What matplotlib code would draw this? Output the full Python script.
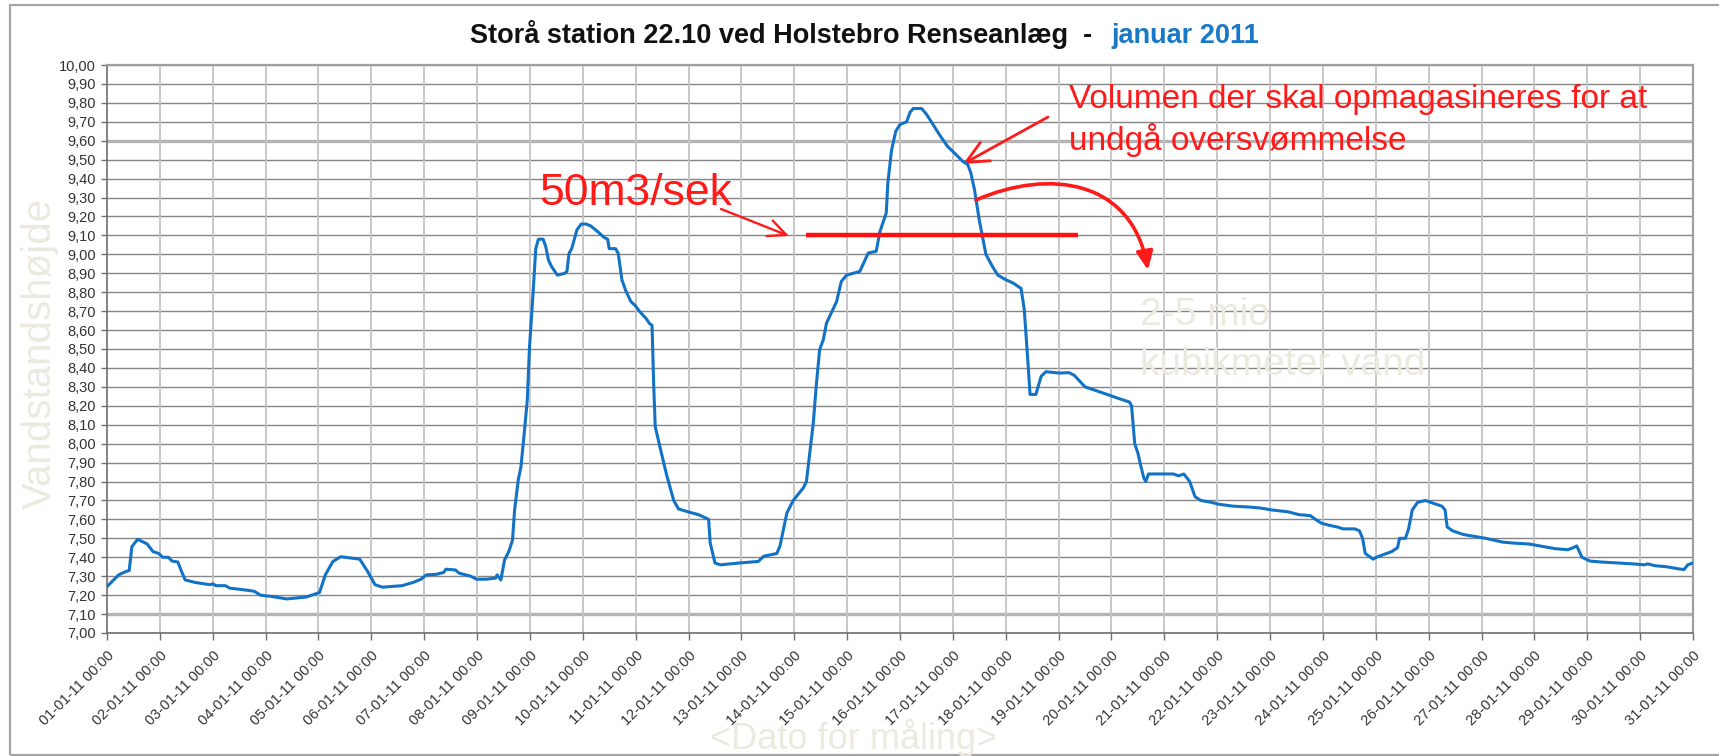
import numpy as np
import matplotlib
matplotlib.use("Agg")
import matplotlib.pyplot as plt
from matplotlib.path import Path
from matplotlib.patches import FancyArrowPatch, Rectangle

# ---------------- data ----------------
title_main = "Storå station 22.10 ved Holstebro Renseanlæg  -"
title_month = "januar 2011"
y_label = "Vandstandshøjde"
x_label = "<Dato for måling>"
flow_label = "50m3/sek"
volume_label_1 = "Volumen der skal opmagasineres for at"
volume_label_2 = "undgå oversvømmelse"
amount_label_1 = "2-5 mio"
amount_label_2 = "kubikmeter vand"

tick_days = list(range(1, 32))
x_tick_labels = [f"{d:02d}-01-11 00:00" for d in tick_days]
y_ticks = [round(7.0 + 0.1 * i, 2) for i in range(31)]
y_tick_labels = [f"{v:.2f}".replace(".", ",") for v in y_ticks]

threshold_level = 9.10
threshold_start = 13.22
threshold_end = 18.36

# days since 01-01-11 00:00
days = [
    0.00, 0.22, 0.36, 0.42, 0.47, 0.58, 0.76, 0.87, 0.98, 1.05,
    1.16, 1.23, 1.34, 1.41, 1.48, 1.67, 1.95, 2.00, 2.06, 2.24,
    2.32, 2.68, 2.79, 2.90, 3.11, 3.40, 3.77, 3.95, 4.02, 4.13,
    4.27, 4.42, 4.78, 4.93, 5.07, 5.21, 5.58, 5.79, 5.94, 6.04,
    6.23, 6.37, 6.41, 6.59, 6.66, 6.88, 6.99, 7.17, 7.35, 7.38,
    7.45, 7.52, 7.60, 7.67, 7.71, 7.78, 7.83, 7.89, 7.95, 7.99,
    8.06, 8.11, 8.16, 8.25, 8.30, 8.35, 8.41, 8.52, 8.66, 8.70,
    8.74, 8.79, 8.89, 8.97, 9.06, 9.15, 9.28, 9.40, 9.47, 9.50,
    9.62, 9.67, 9.74, 9.81, 9.91, 9.99, 10.07, 10.20, 10.26, 10.31,
    10.34, 10.37, 10.47, 10.59, 10.72, 10.81, 11.03, 11.19, 11.38, 11.41,
    11.50, 11.60, 11.97, 12.32, 12.42, 12.67, 12.73, 12.86, 12.98, 13.17,
    13.23, 13.30, 13.36, 13.42, 13.48, 13.55, 13.61, 13.70, 13.80, 13.89,
    13.99, 14.24, 14.40, 14.55, 14.62, 14.74, 14.77, 14.84, 14.92, 15.00,
    15.125, 15.19, 15.25, 15.41, 15.50, 15.625, 15.75, 15.90, 16.03, 16.19,
    16.28, 16.34, 16.41, 16.50, 16.56, 16.625, 16.75, 16.85, 17.00, 17.13,
    17.29, 17.35, 17.42, 17.46, 17.57, 17.67, 17.76, 18.01, 18.20, 18.30,
    18.40, 18.50, 18.71, 18.92, 19.12, 19.34, 19.38, 19.41, 19.44, 19.50,
    19.54, 19.61, 19.65, 19.70, 20.17, 20.27, 20.37, 20.48, 20.58, 20.69,
    20.89, 21.03, 21.30, 21.62, 21.82, 22.03, 22.34, 22.55, 22.76, 22.86,
    22.97, 23.10, 23.27, 23.38, 23.60, 23.69, 23.75, 23.80, 23.90, 23.95,
    24.01, 24.20, 24.30, 24.41, 24.45, 24.56, 24.62, 24.69, 24.79, 24.94,
    25.04, 25.14, 25.25, 25.31, 25.35, 25.45, 25.66, 25.87, 26.08, 26.40,
    26.60, 26.90, 27.10, 27.30, 27.40, 27.63, 27.73, 27.80, 27.85, 27.90,
    28.05, 28.26, 28.56, 28.87, 29.08, 29.14, 29.29, 29.50, 29.70, 29.83,
    29.90, 30.00,
]
levels = [
    7.245, 7.307, 7.325, 7.330, 7.456, 7.495, 7.470, 7.430, 7.420, 7.400,
    7.400, 7.380, 7.375, 7.325, 7.280, 7.267, 7.255, 7.260, 7.250, 7.250,
    7.237, 7.225, 7.220, 7.200, 7.193, 7.180, 7.190, 7.207, 7.214, 7.307,
    7.377, 7.403, 7.390, 7.325, 7.255, 7.242, 7.250, 7.267, 7.284, 7.307,
    7.310, 7.320, 7.337, 7.333, 7.316, 7.300, 7.284, 7.284, 7.290, 7.307,
    7.280, 7.386, 7.430, 7.490, 7.650, 7.810, 7.877, 8.050, 8.230, 8.500,
    8.800, 9.030, 9.080, 9.080, 9.040, 8.970, 8.935, 8.890, 8.900, 8.910,
    9.005, 9.030, 9.130, 9.160, 9.160, 9.150, 9.120, 9.090, 9.080, 9.030,
    9.030, 9.005, 8.865, 8.810, 8.750, 8.730, 8.700, 8.660, 8.635, 8.625,
    8.320, 8.090, 7.970, 7.830, 7.700, 7.655, 7.637, 7.625, 7.600, 7.475,
    7.370, 7.360, 7.370, 7.378, 7.405, 7.420, 7.460, 7.634, 7.700, 7.766,
    7.800, 7.968, 8.110, 8.320, 8.497, 8.550, 8.637, 8.690, 8.750, 8.857,
    8.890, 8.910, 9.007, 9.016, 9.120, 9.218, 9.377, 9.550, 9.650, 9.686,
    9.700, 9.750, 9.770, 9.770, 9.740, 9.686, 9.630, 9.570, 9.535, 9.490,
    9.475, 9.430, 9.340, 9.180, 9.095, 9.000, 8.935, 8.890, 8.866, 8.850,
    8.820, 8.710, 8.430, 8.260, 8.260, 8.356, 8.380, 8.373, 8.375, 8.360,
    8.330, 8.300, 8.280, 8.260, 8.240, 8.220, 8.200, 8.100, 8.000, 7.950,
    7.900, 7.820, 7.800, 7.840, 7.840, 7.830, 7.840, 7.800, 7.720, 7.700,
    7.690, 7.680, 7.670, 7.665, 7.660, 7.650, 7.640, 7.625, 7.620, 7.600,
    7.580, 7.570, 7.560, 7.550, 7.550, 7.540, 7.500, 7.420, 7.400, 7.390,
    7.400, 7.420, 7.430, 7.450, 7.500, 7.500, 7.550, 7.650, 7.690, 7.700,
    7.690, 7.680, 7.670, 7.650, 7.560, 7.540, 7.520, 7.510, 7.500, 7.480,
    7.475, 7.470, 7.460, 7.450, 7.445, 7.440, 7.450, 7.460, 7.430, 7.400,
    7.380, 7.375, 7.370, 7.365, 7.360, 7.365, 7.355, 7.350, 7.340, 7.335,
    7.360, 7.370,
]
assert len(days) == len(levels)

# ---------------- figure ----------------
W, H = 1719, 756
fig = plt.figure(figsize=(W / 100, H / 100), dpi=100)
fig.patch.set_facecolor("white")
FONT = ["Liberation Sans", "DejaVu Sans"]
plt.rcParams["font.family"] = FONT


def ff(x, y):
    """image pixel -> figure fraction"""
    return (x / W, 1 - y / H)


# outer frame
fig.add_artist(Rectangle(ff(10, 755), (W + 20) / W, 750 / H, transform=fig.transFigure,
                         fill=False, edgecolor="#a6a6a6", lw=1.6))

left, right, top, bottom = 107, 1693, 65, 633
ax = fig.add_axes([left / W, 1 - bottom / H, (right - left) / W, (bottom - top) / H])

ax.plot(days, levels, color="#1273c6", lw=2.2, solid_joinstyle="round", zorder=5)

ax.set_xlim(0, 30)
ax.set_ylim(7.0, 10.0)
ax.set_yticks(y_ticks)
ax.set_yticklabels(y_tick_labels, fontsize=10.5, color="#333333")
ax.set_xticks([d - 1 for d in tick_days])
ax.set_xticklabels(x_tick_labels, fontsize=10.5, color="#333333", rotation=45,
                   ha="right", va="top", rotation_mode="anchor")

# grid
for yv in y_ticks:
    if abs(yv - 7.1) < 1e-6 or abs(yv - 9.6) < 1e-6:
        ax.axhline(yv, color="#b4b4b4", lw=2.4, zorder=1)
    else:
        ax.axhline(yv, color="#858585", lw=1.0, zorder=1)
for xv in range(1, 30):
    ax.axvline(xv, color="#c4c4c4", lw=1.3, zorder=1)

for side in ["left", "bottom"]:
    ax.spines[side].set_color("#6e6e6e")
    ax.spines[side].set_linewidth(1.2)
for side in ["top", "right"]:
    ax.spines[side].set_color("#a0a0a0")
    ax.spines[side].set_linewidth(1.6)
ax.tick_params(axis="y", length=4, width=1, color="#6e6e6e", pad=4)
ax.tick_params(axis="x", length=5, width=1, color="#6e6e6e", pad=6)

# threshold line
ax.hlines(threshold_level, threshold_start, threshold_end, color="#ff1010", lw=3.2, zorder=6)

# ---------------- texts ----------------
fig.text(*ff(1092, 43), title_main, ha="right", va="baseline", fontsize=19.5,
         fontweight="bold", color="#111111")
fig.text(*ff(1111, 43), title_month, ha="left", va="baseline", fontsize=19.5,
         fontweight="bold", color="#1a78c8")

faint = "#ece9df"
fig.text(*ff(40, 353), y_label, rotation=90, ha="center", va="center", fontsize=29, color=faint)
fig.text(*ff(854, 738), x_label, ha="center", va="center", fontsize=26, color=faint)
fig.text(*ff(1140, 325), amount_label_1, ha="left", va="baseline", fontsize=28, color=faint)
fig.text(*ff(1140, 375), amount_label_2, ha="left", va="baseline", fontsize=28, color=faint)

red = "#ff1a1a"
fig.text(*ff(539, 205), flow_label, ha="left", va="baseline", fontsize=32, color=red)
fig.text(*ff(1069, 108), volume_label_1, ha="left", va="baseline", fontsize=24, color=red)
fig.text(*ff(1069, 150), volume_label_2, ha="left", va="baseline", fontsize=24, color=red)

# arrows
ax.annotate("", xy=ff(789, 236), xytext=ff(721, 209), xycoords="figure fraction",
            textcoords="figure fraction",
            arrowprops=dict(arrowstyle="->,head_length=1.3,head_width=0.6", color=red,
                            lw=1.7, shrinkA=0, shrinkB=0))
ax.annotate("", xy=ff(963, 164), xytext=ff(1048, 117), xycoords="figure fraction",
            textcoords="figure fraction",
            arrowprops=dict(arrowstyle="->,head_length=1.6,head_width=0.75", color=red,
                            lw=2.0, shrinkA=0, shrinkB=0))

verts = [ff(976, 200), ff(1050, 168), ff(1132, 180), ff(1148, 270)]
curve = Path(verts, [Path.MOVETO, Path.CURVE4, Path.CURVE4, Path.CURVE4])
fig.add_artist(FancyArrowPatch(path=curve, transform=fig.transFigure,
                               arrowstyle="-|>,head_length=1.1,head_width=0.5",
                               mutation_scale=10, color=red, lw=2.6))

fig.savefig("out.png", dpi=100, facecolor="white")
